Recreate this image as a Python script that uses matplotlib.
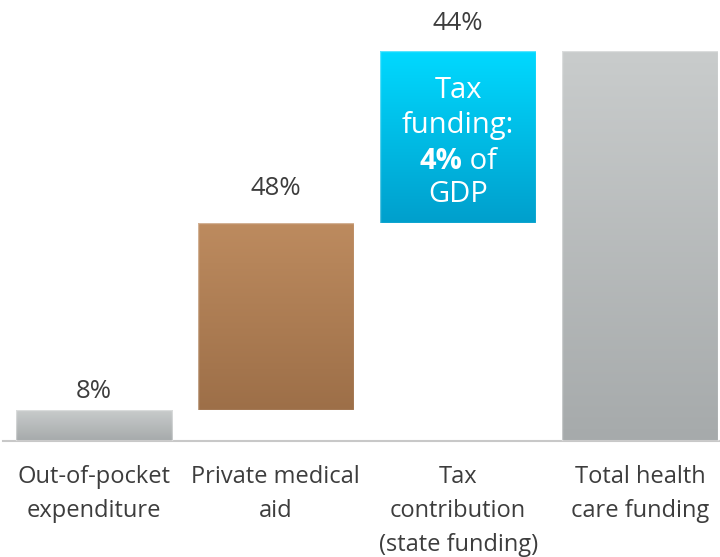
import matplotlib.pyplot as plt
import numpy as np
from matplotlib.colors import LinearSegmentedColormap

plt.rcParams["font.family"] = ["Open Sans", "DejaVu Sans"]

categories = [
    "Out-of-pocket\nexpenditure",
    "Private medical\naid",
    "Tax\ncontribution\n(state funding)",
    "Total health\ncare funding",
]
shares = [8, 48, 44]
total = 100
value_labels = ["8%", "48%", "44%", None]

# gradient colours per bar, top -> bottom
gradients = [
    ("#c9cccc", "#a6aaab"),
    ("#bd8b5f", "#9d6f48"),
    ("#00d9ff", "#009fcc"),
    ("#c9cccc", "#a6aaab"),
]
label_gap = [13.5, 24.5, 20, 0]  # points from bar top to label centre

bottoms = [0, shares[0], shares[0] + shares[1], 0]
heights = shares + [total]

W, H = 720, 557
fig = plt.figure(figsize=(W / 100, H / 100), dpi=100)
base_px = 116
ax = fig.add_axes([0, base_px / H, 1, 1 - base_px / H])
px_per_unit = 3.9
ax.set_ylim(0, (H - base_px) / px_per_unit)
x0 = 93.5
step = 182.33
ax.set_xlim(-x0 / step, (W - x0) / step)

xs = np.arange(len(categories))
width = 156 / step
bars = ax.bar(xs, heights, width=width, bottom=bottoms, color="none", zorder=2)

for bar, (top_c, bot_c) in zip(bars, gradients):
    cmap = LinearSegmentedColormap.from_list("g", [bot_c, top_c])
    x, y = bar.get_x(), bar.get_y()
    w, h = bar.get_width(), bar.get_height()
    grad = np.linspace(0, 1, 256).reshape(-1, 1)
    im = ax.imshow(grad, cmap=cmap, origin="lower", aspect="auto",
                   extent=[x, x + w, y, y + h], zorder=1)
    im.set_clip_path(bar)
    ax.add_patch(plt.Rectangle((x, y), w, h, fill=False,
                               edgecolor="#ffffff", alpha=0.35, lw=1, zorder=3))

for bar, lab, gap in zip(bars, value_labels, label_gap):
    if lab is None:
        continue
    ax.annotate(lab, (bar.get_x() + bar.get_width() / 2, bar.get_y() + bar.get_height()),
                xytext=(0, gap), textcoords="offset points", ha="center", va="center",
                fontsize=18.5, color="#3d3d3d")

# white annotation inside the tax bar
tx = xs[2]
fs_in = 21
txt_kw = dict(color="white", fontsize=fs_in, ha="center", va="center", zorder=4)
line_px = [90, 125, 161, 194]
to_y = lambda p: (H - p - base_px) / px_per_unit
ax.text(tx, to_y(line_px[0]), "Tax", **txt_kw)
ax.text(tx, to_y(line_px[1]), "funding:", **txt_kw)
ax.text(tx, to_y(line_px[3]), "GDP", **txt_kw)
fig.canvas.draw()
r = fig.canvas.get_renderer()
t_bold = ax.text(0, 0, "4%", color="white", fontsize=fs_in, fontweight="bold",
                 ha="left", va="center", zorder=4)
t_reg = ax.text(0, 0, " of", color="white", fontsize=fs_in, ha="left", va="center", zorder=4)
wb = t_bold.get_window_extent(r).width
wr = t_reg.get_window_extent(r).width
cx = ax.transData.transform((tx, 0))[0]
inv = ax.transData.inverted()
xb = inv.transform((cx - (wb + wr) / 2, 0))[0]
xr = inv.transform((cx - (wb + wr) / 2 + wb, 0))[0]
t_bold.set_position((xb, to_y(line_px[2])))
t_reg.set_position((xr, to_y(line_px[2])))

ax.set_xticks(xs)
ax.set_xticklabels(categories, fontsize=17, color="#3d3d3d", linespacing=1.56)
ax.tick_params(axis="x", length=0, pad=17)
ax.set_yticks([])
for s in ["top", "left", "right"]:
    ax.spines[s].set_visible(False)
ax.spines["bottom"].set_color("#c8c8c8")
ax.spines["bottom"].set_linewidth(1.5)
ax.spines["bottom"].set_bounds(-(x0 - 3) / step, (W - x0) / step)
ax.patch.set_alpha(0)

fig.savefig("out.png", dpi=100)
